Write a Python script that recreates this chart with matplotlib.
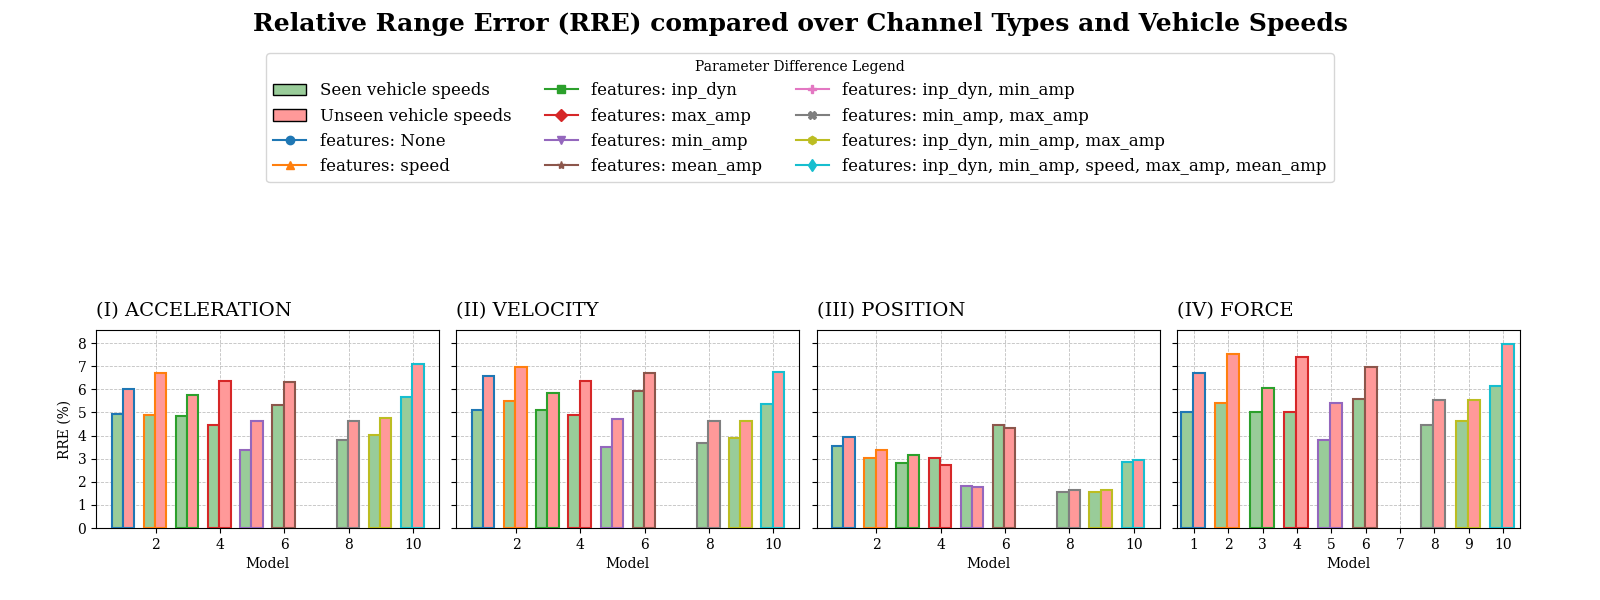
import matplotlib
matplotlib.use("Agg")
import matplotlib.pyplot as plt
from matplotlib.patches import Patch
from matplotlib.lines import Line2D

plt.rcParams['font.family'] = 'DejaVu Serif'

# Modelle (Modell 7 fehlt ueberall)
models = [1, 2, 3, 4, 5, 6, 8, 9, 10]

feature_labels = [
    'features: None',
    'features: speed',
    'features: inp_dyn',
    'features: max_amp',
    'features: min_amp',
    'features: mean_amp',
    'features: inp_dyn, min_amp',
    'features: min_amp, max_amp',
    'features: inp_dyn, min_amp, max_amp',
    'features: inp_dyn, min_amp, speed, max_amp, mean_amp',
]
feature_markers = ['o', '^', 's', 'D', 'v', '*', 'P', 'X', 'h', 'd']
feature_colors = ['tab:blue', 'tab:orange', 'tab:green', 'tab:red', 'tab:purple',
                  'tab:brown', 'tab:pink', 'tab:gray', 'tab:olive', 'tab:cyan']

channels = ['(I) ACCELERATION', '(II) VELOCITY', '(III) POSITION', '(IV) FORCE']

acc_seen = [4.94, 4.90, 4.83, 4.47, 3.36, 5.33, 3.79, 4.01, 5.65]
acc_unseen = [6.02, 6.70, 5.76, 6.38, 4.61, 6.30, 4.65, 4.74, 7.12]

vel_seen = [5.12, 5.48, 5.12, 4.90, 3.49, 5.91, 3.69, 3.88, 5.35]
vel_unseen = [6.59, 6.99, 5.86, 6.38, 4.70, 6.69, 4.65, 4.65, 6.76]

pos_seen = [3.57, 3.05, 2.82, 3.05, 1.80, 4.47, 1.54, 1.54, 2.84]
pos_unseen = [3.96, 3.36, 3.18, 2.71, 1.76, 4.31, 1.63, 1.63, 2.93]

force_seen = [5.04, 5.43, 5.04, 5.04, 3.83, 5.59, 4.47, 4.65, 6.15]
force_unseen = [6.73, 7.51, 6.08, 7.38, 5.39, 6.95, 5.52, 5.56, 7.98]

seen_all = [acc_seen, vel_seen, pos_seen, force_seen]
unseen_all = [acc_unseen, vel_unseen, pos_unseen, force_unseen]

seen_face = '#99cc99'
unseen_face = '#ff9999'
w = 0.35

fig, axes = plt.subplots(1, 4, figsize=(16, 6), dpi=100, sharey=True)
fig.subplots_adjust(left=0.06, right=0.95, bottom=0.12, top=0.45, wspace=0.05)

for k, ax in enumerate(axes):
    for i, m in enumerate(models):
        col = feature_colors[m - 1]
        ax.bar(m - 0.2, seen_all[k][i], width=w, facecolor=seen_face,
               edgecolor=col, linewidth=1.5, zorder=3)
        ax.bar(m + 0.15, unseen_all[k][i], width=w, facecolor=unseen_face,
               edgecolor=col, linewidth=1.5, zorder=3)
    ax.set_title(channels[k], loc='left', fontsize=14, pad=10)
    ax.set_xlabel('Model', fontsize=10)
    ax.grid(True, linestyle='--', linewidth=0.6, color='#b0b0b0', alpha=0.8, zorder=0)
    ax.tick_params(labelsize=10)

axes[0].set_ylabel('RRE (%)', fontsize=10)
axes[0].set_ylim(0, 8.57)
axes[0].set_yticks(range(0, 9))
axes[3].set_xticks(range(1, 11))
axes[3].set_xlim(0.5, 10.5)

handles = [Patch(facecolor=seen_face, edgecolor='black', label='Seen vehicle speeds'),
           Patch(facecolor=unseen_face, edgecolor='black', label='Unseen vehicle speeds')]
for lab, mk, c in zip(feature_labels, feature_markers, feature_colors):
    handles.append(Line2D([0], [0], color=c, marker=mk, markersize=6, label=lab))

fig.legend(handles=handles, loc='upper center', bbox_to_anchor=(0.5, 0.925), ncol=3,
           title='Parameter Difference Legend', title_fontsize=10, fontsize=12,
           handlelength=2.0)

fig.suptitle('Relative Range Error (RRE) compared over Channel Types and Vehicle Speeds',
             fontsize=18, fontweight='bold', y=0.98)

fig.savefig('out.png', dpi=100)
